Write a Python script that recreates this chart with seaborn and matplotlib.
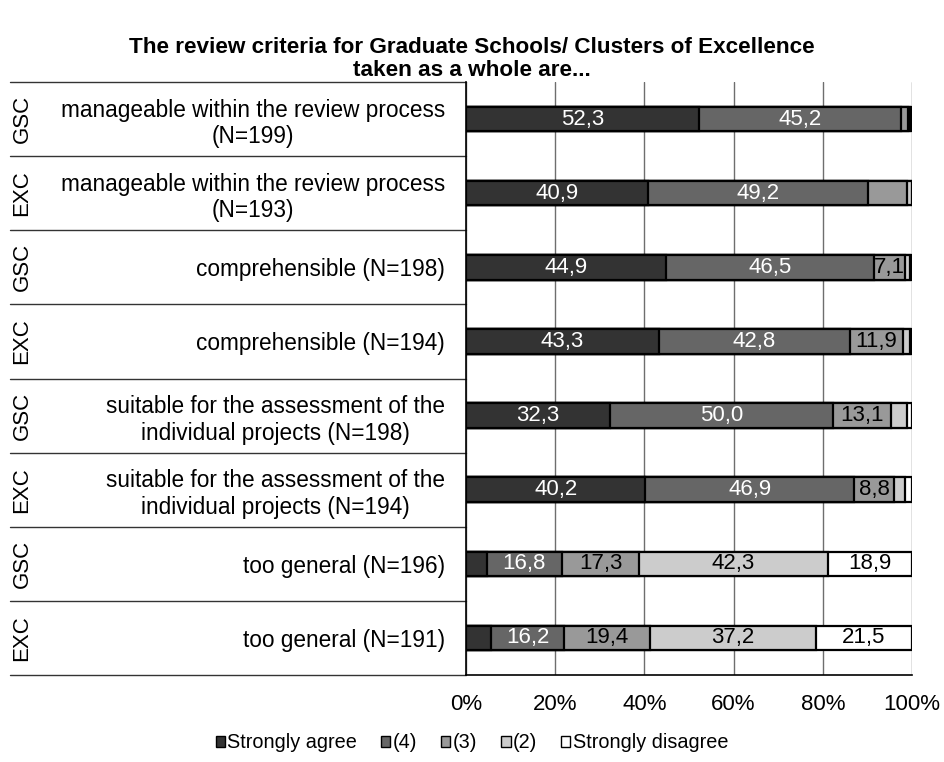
import numpy as np
import pandas as pd
import matplotlib
matplotlib.use("Agg")
import matplotlib.pyplot as plt
import matplotlib.transforms as mtransforms
from matplotlib.patches import Patch
import seaborn as sns

# data (percent)
groups = ["GSC", "EXC", "GSC", "EXC", "GSC", "EXC", "GSC", "EXC"]
items = [
    "manageable within the review process\n(N=199)",
    "manageable within the review process\n(N=193)",
    "comprehensible (N=198)",
    "comprehensible (N=194)",
    "suitable for the assessment of the\nindividual projects (N=198)",
    "suitable for the assessment of the\nindividual projects (N=194)",
    "too general (N=196)",
    "too general (N=191)",
]
levels = ["Strongly agree", "(4)", "(3)", "(2)", "Strongly disagree"]
strongly_agree = [52.3, 40.9, 44.9, 43.3, 32.3, 40.2, 4.7, 5.7]
level_4 = [45.2, 49.2, 46.5, 42.8, 50.0, 46.9, 16.8, 16.2]
level_3 = [1.5, 8.8, 7.1, 11.9, 13.1, 8.8, 17.3, 19.4]
level_2 = [0.5, 1.0, 1.0, 1.5, 3.5, 2.6, 42.3, 37.2]
strongly_disagree = [0.5, 0.1, 0.5, 0.5, 1.1, 1.5, 18.9, 21.5]
# the reference leaves this one segment unlabelled
hidden_labels = [(1, "(3)")]

colors = ["#333333", "#666666", "#999999", "#cccccc", "#ffffff"]
text_colors = ["white", "white", "black", "black", "black"]

df = pd.DataFrame({"item": items, "group": groups})
for name, vals in zip(levels, [strongly_agree, level_4, level_3, level_2, strongly_disagree]):
    df[name] = vals
cum = df[levels].cumsum(axis=1)

sns.set_style("white")
plt.rcParams["font.family"] = ["Liberation Sans", "DejaVu Sans"]
plt.rcParams["text.color"] = "black"
plt.rcParams["xtick.color"] = "black"
plt.rcParams["ytick.color"] = "black"

fs = 16

fig = plt.figure(figsize=(9.44, 7.62), dpi=100)
ax = fig.add_axes([466 / 944, 1 - 675 / 762, 446 / 944, (675 - 82) / 762])

# stacked bars: draw cumulative totals from the right end back to the left
for i in range(len(levels) - 1, -1, -1):
    sns.barplot(x=cum[levels[i]], y=df["item"], orient="h", color=colors[i],
                saturation=1, edgecolor="black", linewidth=1.6, width=0.33,
                ax=ax, zorder=3)

# value labels
for r in range(len(df)):
    left = 0
    for i, name in enumerate(levels):
        v = df.loc[r, name]
        if v >= 7 and (r, name) not in hidden_labels:
            ax.text(left + v / 2, r, f"{v:.1f}".replace(".", ","), ha="center",
                    va="center", fontsize=fs, color=text_colors[i], zorder=4)
        left += v

ax.set_xlim(0, 100)
ax.set_ylim(len(df) - 0.5, -0.5)
ax.set_xticks(np.arange(0, 101, 20))
ax.set_xticklabels([f"{t}%" for t in range(0, 101, 20)], fontsize=fs)
ax.tick_params(axis="x", length=5, width=1, direction="out", pad=9, colors="black")
ax.xaxis.grid(True, color="#6e6e6e", linewidth=1)
ax.set_axisbelow(True)
ax.set_xlabel("")
ax.set_ylabel("")
for s in ["top", "right"]:
    ax.spines[s].set_visible(False)
for s in ["left", "bottom"]:
    ax.spines[s].set_color("black")
    ax.spines[s].set_linewidth(1.2)

ax.set_yticks(range(len(df)))
ax.set_yticklabels(items, fontsize=16.3, multialignment="center")
ax.tick_params(axis="y", length=0, pad=15)

# separators in the label area and group labels
trans = mtransforms.blended_transform_factory(ax.transAxes, ax.transData)
x0 = -(466 - 10) / 446
for b in np.arange(-0.5, len(df), 1.0):
    ax.plot([x0, 0], [b, b], color="#333333", linewidth=1, transform=trans, clip_on=False)
for r, g in enumerate(groups):
    ax.text(-(466 - 22) / 446, r, g, rotation=90, ha="center", va="center",
            fontsize=fs, transform=trans)

fig.suptitle("The review criteria for Graduate Schools/ Clusters of Excellence\ntaken as a whole are...",
             fontsize=16.2, fontweight="bold", y=0.951, x=0.5, linespacing=1.1)

handles = [Patch(facecolor=c, edgecolor="black", linewidth=1) for c in colors]
fig.legend(handles, levels, loc="center", bbox_to_anchor=(0.5, 1 - 743 / 762), ncol=5,
           frameon=False, fontsize=14.3, handlelength=0.47, handleheight=0.47,
           handletextpad=0.12, columnspacing=1.2)

fig.savefig("out.png", dpi=100)
